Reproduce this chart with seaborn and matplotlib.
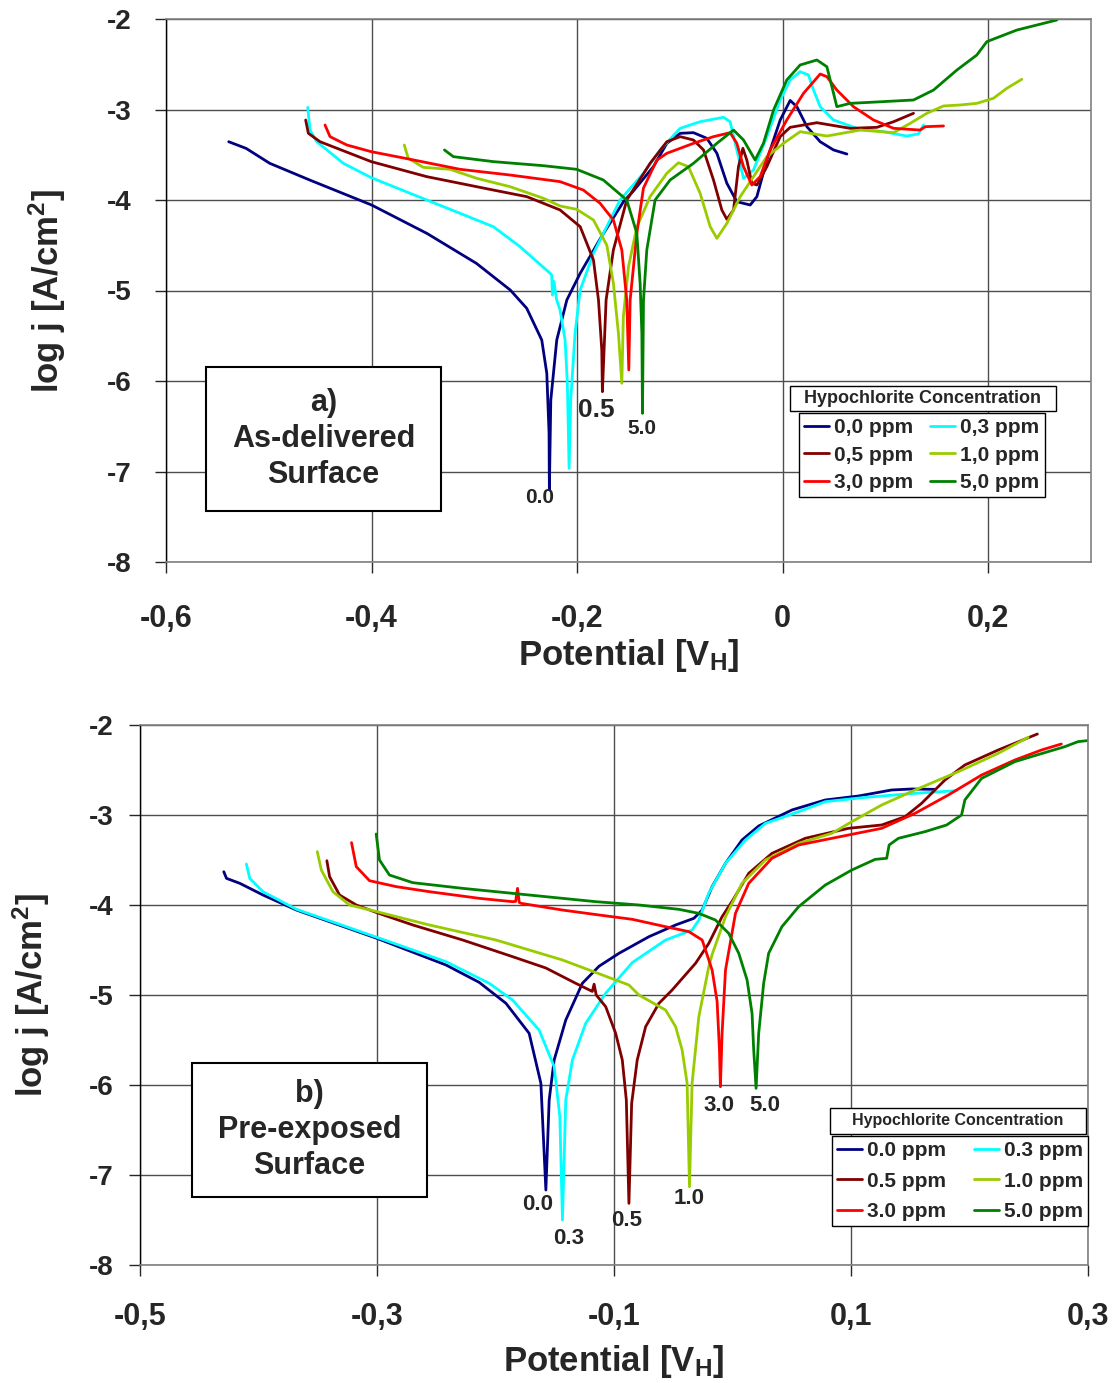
import numpy as np
import pandas as pd
import matplotlib
matplotlib.use("Agg")
import matplotlib.pyplot as plt
import matplotlib.patches as patches
from matplotlib.lines import Line2D
import seaborn as sns

# ---------------- data: a) as-delivered surface ----------------
a_x_00 = [-0.539, -0.522, -0.499, -0.460, -0.400, -0.346, -0.298, -0.265, -0.249, -0.2344, -0.2295, -0.2273, -0.227,
          -0.2256, -0.2198, -0.210, -0.197, -0.1776, -0.155, -0.1452, -0.1257, -0.1127, -0.0997, -0.0868, -0.0738,
          -0.064, -0.0543, -0.0446, -0.0316, -0.0251, -0.0154, -0.0024, 0.0073, 0.0138, 0.0236, 0.0365, 0.0495, 0.0625]
a_y_00 = [-3.356, -3.43, -3.595, -3.78, -4.055, -4.37, -4.70, -4.995, -5.197, -5.547, -5.915, -6.575, -7.204,
          -6.21, -5.547, -5.105, -4.81, -4.43, -4.02, -3.90, -3.63, -3.374, -3.263, -3.256, -3.318,
          -3.484, -3.815, -4.019, -4.055, -3.963, -3.558, -3.116, -2.90, -2.969, -3.19, -3.356, -3.447, -3.492]

a_x_03 = [-0.4621, -0.4599, -0.4533, -0.4274, -0.4003, -0.3463, -0.3139, -0.2815, -0.2555, -0.2263, -0.2247, -0.2240,
          -0.2225, -0.2200, -0.2166, -0.2117, -0.2095, -0.2078, -0.2062, -0.202, -0.197, -0.1841, -0.1679, -0.1582,
          -0.1355, -0.1192, -0.0997, -0.0803, -0.0576, -0.0511, -0.0446, -0.0381, -0.0284, -0.0154, -0.0024, 0.0073,
          0.017, 0.0251, 0.03, 0.0365, 0.0495, 0.0722, 0.098, 0.1208, 0.1321, 0.137]
a_y_03 = [-2.976, -3.227, -3.356, -3.595, -3.753, -4.0, -4.147, -4.295, -4.516, -4.81, -4.83, -5.05,
          -4.90, -5.10, -5.215, -5.547, -6.025, -6.965, -6.21, -5.473, -4.995, -4.59, -4.22, -4.0,
          -3.705, -3.447, -3.208, -3.135, -3.086, -3.135, -3.447, -3.76, -3.668, -3.30, -2.895, -2.674,
          -2.582, -2.619, -2.785, -2.969, -3.116, -3.208, -3.245, -3.293, -3.27, -3.171]

a_x_05 = [-0.4641, -0.4615, -0.4501, -0.4003, -0.3463, -0.2815, -0.249, -0.2166, -0.197, -0.1841, -0.1792, -0.176,
          -0.1754, -0.1718, -0.1647, -0.1517, -0.129, -0.1127, -0.0997, -0.0868, -0.077, -0.0673, -0.0592, -0.0543,
          -0.0478, -0.043, -0.0387, -0.0349, -0.03, -0.0251, -0.0154, -0.0024, 0.0073, 0.0333, 0.0657, 0.0917,
          0.1079, 0.1273]
a_y_05 = [-3.116, -3.263, -3.356, -3.576, -3.742, -3.89, -3.963, -4.11, -4.295, -4.663, -5.105, -5.657,
          -6.118, -5.105, -4.552, -4.0, -3.595, -3.356, -3.30, -3.337, -3.447, -3.779, -4.11, -4.213,
          -4.11, -3.632, -3.429, -3.558, -3.815, -3.834, -3.632, -3.30, -3.197, -3.146, -3.208, -3.197,
          -3.135, -3.042]

a_x_10 = [-0.3682, -0.3643, -0.3497, -0.3236, -0.2978, -0.2652, -0.2328, -0.2166, -0.2004, -0.1841, -0.1711, -0.1647,
          -0.1598, -0.1565, -0.155, -0.15, -0.1419, -0.129, -0.1127, -0.1014, -0.0917, -0.0803, -0.0705, -0.064,
          -0.0543, -0.0413, -0.0284, -0.0154, 0.0008, 0.017, 0.043, 0.0755, 0.1079, 0.1241, 0.1403, 0.1565,
          0.1727, 0.1889, 0.2051, 0.2181, 0.2327]
a_y_10 = [-3.392, -3.539, -3.639, -3.661, -3.76, -3.853, -3.981, -4.066, -4.103, -4.221, -4.50, -4.92,
          -5.473, -6.025, -5.289, -4.737, -4.30, -3.963, -3.705, -3.588, -3.632, -3.926, -4.295, -4.424,
          -4.258, -3.963, -3.742, -3.521, -3.374, -3.245, -3.293, -3.227, -3.256, -3.153, -3.042, -2.961,
          -2.95, -2.932, -2.876, -2.766, -2.666]

a_x_30 = [-0.4453, -0.4404, -0.4241, -0.4003, -0.3625, -0.3139, -0.2652, -0.2166, -0.1939, -0.1776, -0.1647, -0.1565,
          -0.1517, -0.1497, -0.1484, -0.1419, -0.1355, -0.1225, -0.1127, -0.0868, -0.0673, -0.0511, -0.0446, -0.0381,
          -0.03, -0.0219, -0.0122, 0.004, 0.0203, 0.0365, 0.043, 0.0527, 0.0689, 0.0884, 0.1079, 0.1338,
          0.1387, 0.1565]
a_y_30 = [-3.171, -3.30, -3.392, -3.466, -3.55, -3.661, -3.724, -3.797, -3.89, -4.037, -4.221, -4.552,
          -5.105, -5.878, -5.105, -4.37, -3.87, -3.56, -3.484, -3.374, -3.30, -3.256, -3.374, -3.632,
          -3.834, -3.742, -3.447, -3.116, -2.821, -2.608, -2.637, -2.785, -2.969, -3.116, -3.208, -3.227,
          -3.19, -3.182]

a_x_50 = [-0.3291, -0.3204, -0.2815, -0.2328, -0.2004, -0.1745, -0.1517, -0.1419, -0.1387, -0.137, -0.1364, -0.1354,
          -0.1322, -0.1241, -0.1095, -0.0868, -0.064, -0.0478, -0.0381, -0.0268, -0.0187, -0.0089, 0.004, 0.017,
          0.0333, 0.043, 0.0495, 0.0527, 0.0657, 0.098, 0.1273, 0.1468, 0.1695, 0.1889, 0.1987, 0.2279, 0.2668]
a_y_50 = [-3.447, -3.521, -3.576, -3.621, -3.661, -3.779, -4.0, -4.368, -4.92, -5.473, -6.357, -5.105,
          -4.552, -4.0, -3.779, -3.595, -3.374, -3.227, -3.337, -3.558, -3.374, -3.006, -2.674, -2.508,
          -2.453, -2.527, -2.821, -2.969, -2.932, -2.913, -2.895, -2.785, -2.564, -2.398, -2.25, -2.122, -2.011]

# ---------------- data: b) pre-exposed surface ----------------
b_x_00 = [-0.4293, -0.427, -0.4158, -0.3962, -0.368, -0.3002, -0.2417, -0.2137, -0.1912, -0.1716, -0.1617, -0.1575,
          -0.1547, -0.1505, -0.1407, -0.1267, -0.1126, -0.0958, -0.0705, -0.048, -0.0326, -0.0256, -0.0172, -0.0059,
          0.008, 0.0221, 0.0502, 0.0783, 0.1063, 0.1343, 0.1512, 0.1709]
b_y_00 = [-3.63, -3.704, -3.759, -3.889, -4.056, -4.37, -4.667, -4.86, -5.092, -5.426, -5.981, -7.167,
          -6.167, -5.722, -5.278, -4.87, -4.68, -4.537, -4.352, -4.222, -4.148, -4.056, -3.796, -3.537,
          -3.278, -3.122, -2.944, -2.833, -2.789, -2.722, -2.711, -2.715]

b_x_03 = [-0.4102, -0.4074, -0.3962, -0.368, -0.3002, -0.2417, -0.2053, -0.1856, -0.1632, -0.1505, -0.1457, -0.1435,
          -0.1407, -0.1351, -0.1239, -0.107, -0.0846, -0.0565, -0.0341, -0.0284, -0.0201, -0.0059, 0.0109, 0.0278,
          0.0558, 0.0783, 0.112, 0.1541, 0.1891]
b_y_03 = [-3.544, -3.704, -3.852, -4.048, -4.359, -4.63, -4.87, -5.056, -5.389, -5.796, -6.352, -7.50,
          -6.167, -5.722, -5.315, -4.98, -4.64, -4.389, -4.278, -4.167, -3.87, -3.537, -3.278, -3.093,
          -2.963, -2.852, -2.804, -2.759, -2.73]

b_x_05 = [-0.3423, -0.34, -0.3316, -0.3175, -0.3002, -0.2698, -0.2277, -0.1856, -0.1575, -0.1323, -0.1183, -0.1168,
          -0.115, -0.107, -0.0986, -0.093, -0.0896, -0.0874, -0.0851, -0.0804, -0.0733, -0.0621, -0.0509, -0.0312,
          -0.02, -0.0088, 0.0004, 0.0137, 0.0333, 0.0614, 0.0979, 0.1259, 0.1456, 0.1596, 0.1793, 0.1961,
          0.2242, 0.2573]
b_y_05 = [-3.508, -3.685, -3.889, -4.0, -4.085, -4.222, -4.389, -4.574, -4.70, -4.87, -4.96, -4.88,
          -5.0, -5.13, -5.426, -5.722, -6.167, -7.315, -6.204, -5.722, -5.352, -5.093, -4.944, -4.648,
          -4.426, -4.13, -3.944, -3.648, -3.426, -3.259, -3.148, -3.111, -3.019, -2.87, -2.611, -2.444,
          -2.278, -2.10]

b_x_10 = [-0.3504, -0.347, -0.3372, -0.3232, -0.3002, -0.2558, -0.1996, -0.1435, -0.1154, -0.0874, -0.079, -0.0565,
          -0.048, -0.0425, -0.0383, -0.0363, -0.0341, -0.0284, -0.02, -0.0172, -0.0059, 0.008, 0.0278, 0.0558,
          0.0838, 0.1007, 0.1259, 0.1541, 0.1905, 0.2242, 0.2495]
b_y_10 = [-3.407, -3.611, -3.852, -4.0, -4.074, -4.222, -4.389, -4.611, -4.75, -4.889, -5.0, -5.167,
          -5.352, -5.611, -5.981, -7.13, -5.981, -5.241, -4.685, -4.55, -4.13, -3.759, -3.5, -3.315,
          -3.204, -3.074, -2.889, -2.722, -2.519, -2.315, -2.137]

b_x_30 = [-0.3215, -0.3175, -0.3063, -0.2838, -0.2558, -0.2137, -0.1856, -0.183, -0.1814, -0.180, -0.1786, -0.1435,
          -0.1126, -0.0846, -0.0565, -0.0368, -0.0256, -0.0172, -0.013, -0.011, -0.0102, -0.0088, -0.0059, 0.0025,
          0.0137, 0.0333, 0.0558, 0.0979, 0.1259, 0.1541, 0.1821, 0.2102, 0.2383, 0.2607, 0.2775]
b_y_30 = [-3.307, -3.574, -3.73, -3.796, -3.852, -3.926, -3.963, -3.96, -3.815, -3.97, -3.981, -4.056,
          -4.111, -4.159, -4.241, -4.296, -4.389, -4.722, -5.07, -5.611, -6.019, -5.426, -4.722, -4.093,
          -3.759, -3.481, -3.333, -3.222, -3.148, -2.981, -2.778, -2.556, -2.389, -2.278, -2.211]

b_x_50 = [-0.3007, -0.2979, -0.2895, -0.2698, -0.2277, -0.1716, -0.1154, -0.0789, -0.0453, -0.0284, -0.0144, -0.0032,
          0.0053, 0.0123, 0.0165, 0.0179, 0.0199, 0.0221, 0.0263, 0.0305, 0.0417, 0.0558, 0.0783, 0.1007,
          0.1204, 0.1301, 0.1322, 0.14, 0.1625, 0.1807, 0.1933, 0.1961, 0.2102, 0.2383, 0.2635, 0.2804,
          0.2916, 0.2992]
b_y_50 = [-3.211, -3.5, -3.667, -3.752, -3.815, -3.889, -3.963, -4.0, -4.048, -4.093, -4.167, -4.315,
          -4.537, -4.833, -5.204, -5.611, -6.037, -5.426, -4.87, -4.537, -4.241, -4.019, -3.778, -3.611,
          -3.493, -3.481, -3.333, -3.259, -3.185, -3.111, -3.0, -2.833, -2.593, -2.407, -2.307, -2.241,
          -2.185, -2.174]

concs = ["0.0", "0.3", "0.5", "1.0", "3.0", "5.0"]
colors = ["#000080", "#00FFFF", "#800000", "#99CC00", "#FF0000", "#008000"]
a_labels = ["0,0 ppm", "0,3 ppm", "0,5 ppm", "1,0 ppm", "3,0 ppm", "5,0 ppm"]
b_labels = ["0.0 ppm", "0.3 ppm", "0.5 ppm", "1.0 ppm", "3.0 ppm", "5.0 ppm"]

a_xticks = [-0.6, -0.4, -0.2, 0.0, 0.2]
a_xticklabels = ["-0,6", "-0,4", "-0,2", "0", "0,2"]
b_xticks = [-0.5, -0.3, -0.1, 0.1, 0.3]
b_xticklabels = ["-0,5", "-0,3", "-0,1", "0,1", "0,3"]
yticks = [-8, -7, -6, -5, -4, -3, -2]

# dip labels (text, x, y)
a_dip_text = ["0.0", "0.5", "5.0"]
a_dip_x = [-0.236, -0.1815, -0.1368]
a_dip_y = [-7.29, -6.32, -6.52]
a_dip_size = [15, 19, 15]
b_dip_text = ["0.0", "0.3", "0.5", "1.0", "3.0", "5.0"]
b_dip_x = [-0.1648, -0.1387, -0.0891, -0.0368, -0.0116, 0.0272]
b_dip_y = [-7.333, -7.711, -7.511, -7.256, -6.233, -6.233]


def make_frame(xs, ys):
    rows = []
    for c, x, y in zip(concs, xs, ys):
        rows.append(pd.DataFrame({"E": x, "logj": y, "conc": c, "idx": np.arange(len(x))}))
    return pd.concat(rows, ignore_index=True)


df_a = make_frame([a_x_00, a_x_03, a_x_05, a_x_10, a_x_30, a_x_50],
                  [a_y_00, a_y_03, a_y_05, a_y_10, a_y_30, a_y_50])
df_b = make_frame([b_x_00, b_x_03, b_x_05, b_x_10, b_x_30, b_x_50],
                  [b_y_00, b_y_03, b_y_05, b_y_10, b_y_30, b_y_50])

sns.set_style("white")
plt.rcParams["font.family"] = ["Liberation Sans", "DejaVu Sans"]
plt.rcParams["font.weight"] = "bold"
plt.rcParams["mathtext.fontset"] = "custom"
plt.rcParams["mathtext.rm"] = "Liberation Sans:bold"
plt.rcParams["mathtext.bf"] = "Liberation Sans:bold"
plt.rcParams["mathtext.it"] = "Liberation Sans:bold"

W, H = 1118, 1383
fig = plt.figure(figsize=(W / 100, H / 100), dpi=100)
palette = dict(zip(concs, colors))


def fx(px):
    return px / W


def fy(py):
    return 1 - py / H


def style_axes(ax, xlim, xticks, xticklabels, xpad, ypad, xsize, ysize):
    ax.set_xlim(*xlim)
    ax.set_ylim(-8, -2)
    ax.set_xticks(xticks)
    ax.set_xticklabels(xticklabels, fontsize=xsize, fontweight="bold")
    ax.set_yticks(yticks)
    ax.set_yticklabels([str(v) for v in yticks], fontsize=ysize, fontweight="bold")
    ax.tick_params(axis="x", direction="out", length=8, width=1, pad=xpad, bottom=True)
    ax.tick_params(axis="y", direction="out", length=8, width=1, pad=ypad, left=True)
    ax.grid(True, color="#4d4d4d", lw=1.0)
    for s in ["top", "right", "bottom"]:
        ax.spines[s].set_color("#808080")
        ax.spines[s].set_linewidth(1.2)
    ax.spines["left"].set_color("black")
    ax.spines["left"].set_linewidth(1.0)
    ax.set_xlabel(r"Potential [$\mathregular{V_H}$]", fontsize=25, fontweight="bold")
    ax.set_ylabel(r"log j [A/cm$\mathregular{^2}$]", fontsize=25, fontweight="bold")


def draw_box(x0, y0, x1, y1, text):
    rect = patches.Rectangle((fx(x0), fy(y1)), fx(x1) - fx(x0), fy(y0) - fy(y1),
                             transform=fig.transFigure, fill=True, fc="white", ec="black", lw=1.5, zorder=5)
    fig.patches.append(rect)
    fig.text(fx((x0 + x1) / 2), fy((y0 + y1) / 2), text, ha="center", va="center",
             fontsize=22, fontweight="bold", linespacing=1.25, zorder=6)


def draw_legend(ax, labels, tx0, ty0, tx1, ty1, tsize, ex, ey, lspace, cspace):
    order = [0, 2, 4, 1, 3, 5]
    handles = [Line2D([], [], color=colors[i], lw=2) for i in order]
    leg = ax.legend(handles, [labels[i] for i in order], ncol=2, loc="upper left",
                    bbox_to_anchor=(fx(ex), fy(ey)), bbox_transform=fig.transFigure,
                    borderaxespad=0, borderpad=0.25, labelspacing=lspace, handlelength=1.2,
                    handletextpad=0.25, columnspacing=cspace, fancybox=False, framealpha=1,
                    prop={"size": 15, "weight": "bold"})
    leg.get_frame().set_edgecolor("black")
    leg.get_frame().set_linewidth(1.0)
    rect = patches.Rectangle((fx(tx0), fy(ty1)), fx(tx1) - fx(tx0), fy(ty0) - fy(ty1),
                             transform=fig.transFigure, fc="white", ec="black", lw=1.0, zorder=5)
    fig.patches.append(rect)
    fig.text(fx((tx0 + tx1) / 2), fy((ty0 + ty1) / 2), "Hypochlorite Concentration", ha="center",
             va="center", fontsize=tsize, fontweight="bold", zorder=6)


# ---------------- panel a ----------------
ax1 = fig.add_axes([fx(166), fy(562), fx(1091) - fx(166), fy(19) - fy(562)])
sns.lineplot(data=df_a, x="E", y="logj", hue="conc", units="conc", estimator=None, sort=False,
             palette=palette, lw=2, legend=False, ax=ax1)
style_axes(ax1, (-0.6, 0.3), a_xticks, a_xticklabels, 22, 17, 22, 20)
ax1.xaxis.set_label_coords(0.5, -0.138)
ax1.yaxis.set_label_coords(-0.106, 0.5)
for t, x, y, s in zip(a_dip_text, a_dip_x, a_dip_y, a_dip_size):
    ax1.text(x, y, t, ha="center", va="center", fontsize=s, fontweight="bold")
draw_legend(ax1, a_labels, 790, 386, 1056, 411, 13, 799, 413, 0.4, 0.8)
draw_box(206, 367, 441, 511, "a)\nAs-delivered\nSurface")

# ---------------- panel b ----------------
ax2 = fig.add_axes([fx(140), fy(1265), fx(1088) - fx(140), fy(725) - fy(1265)])
sns.lineplot(data=df_b, x="E", y="logj", hue="conc", units="conc", estimator=None, sort=False,
             palette=palette, lw=2, legend=False, ax=ax2)
style_axes(ax2, (-0.5, 0.3), b_xticks, b_xticklabels, 19, 11, 22, 20)
ax2.xaxis.set_label_coords(0.5, -0.145)
ax2.yaxis.set_label_coords(-0.093, 0.5)
for t, x, y in zip(b_dip_text, b_dip_x, b_dip_y):
    ax2.text(x, y, t, ha="center", va="center", fontsize=16, fontweight="bold")
draw_legend(ax2, b_labels, 830, 1108, 1086, 1134, 11.5, 832, 1136, 0.55, 1.3)
draw_box(192, 1063, 427, 1197, "b)\nPre-exposed\nSurface")

fig.savefig("out.png", dpi=100)
